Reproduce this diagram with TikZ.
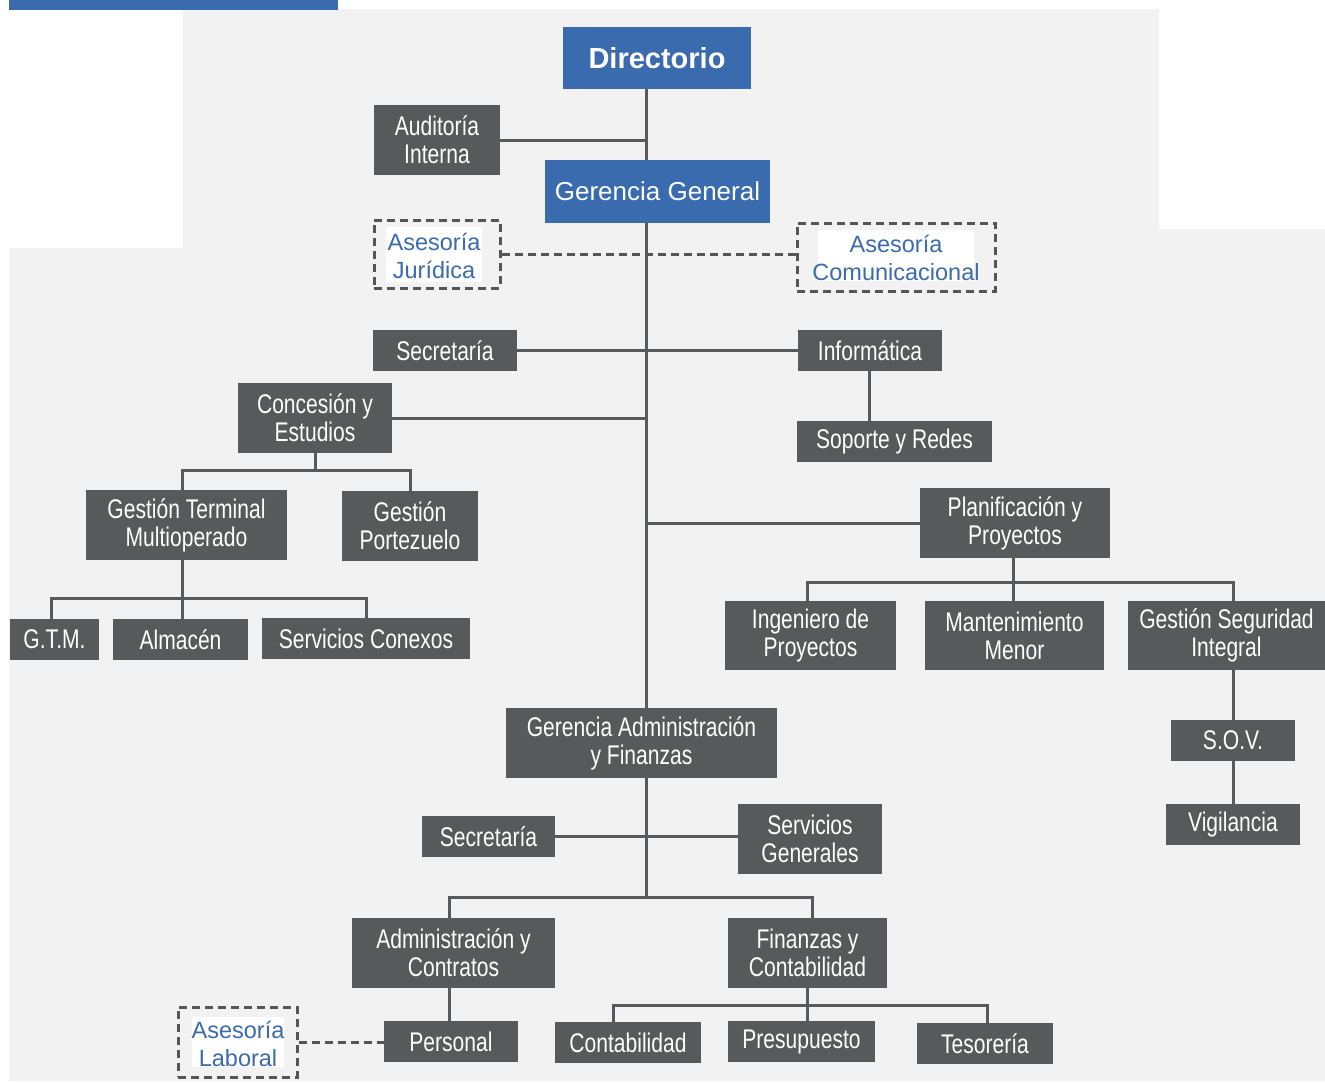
\documentclass[tikz,border=0pt]{standalone}
\usepackage{fontspec}
\setmainfont{Liberation Sans}
\newfontfamily\condfont[FakeStretch=0.78]{Liberation Sans}
\usetikzlibrary{calc}
\definecolor{boxgray}{HTML}{58595B}
\definecolor{corpblue}{HTML}{3A6BAF}
\definecolor{bggray}{HTML}{F2F2F2}
\definecolor{linegray}{HTML}{58595B}
\definecolor{dashgray}{HTML}{555555}
\pgfdeclarelayer{back}
\pgfdeclarelayer{lines}
\pgfsetlayers{back,lines,main}
\begin{document}
\begin{tikzpicture}[x=1pt,y=-1pt,
 unit/.style={fill=boxgray, text=white, inner sep=0pt, align=center, font=\condfont\fontsize{27}{28}\selectfont},
 bluebox/.style={fill=corpblue, text=white, inner sep=0pt, align=center},
 advisor/.style={draw=dashgray, line width=3pt, dash pattern=on 8pt off 5pt, inner sep=0pt},
 advbg/.style={fill=white, inner sep=0pt},
 advtext/.style={text=corpblue, inner sep=0pt, align=center, font=\fontsize{23.5}{28}\selectfont},
 link/.style={draw=linegray, line width=3pt},
 dlink/.style={draw=dashgray, line width=3pt, dash pattern=on 8pt off 5pt},
]
\useasboundingbox (0,0) rectangle (1325,1082);
\begin{pgfonlayer}{back}
\fill[bggray] (183,9) -- (1159,9) -- (1159,229) -- (1325,229) -- (1325,1081) -- (9,1081) -- (9,248) -- (183,248) -- cycle;
\fill[corpblue] (9,0) rectangle (338,10);
\end{pgfonlayer}

% nodes
\node[bluebox, minimum width=188, minimum height=62, font=\bfseries\fontsize{29}{30}\selectfont] (dir) at (657,58) {Directorio};
\node[unit, minimum width=126, minimum height=70] (aud) at (437,140) {Auditoría\\Interna};
\node[bluebox, minimum width=225, minimum height=63, font=\fontsize{26}{28}\selectfont] (gg) at (657.5,191.5) {Gerencia General};

\node[advisor, minimum width=126, minimum height=68] (aj) at (437,254) {};
\node[advbg, minimum width=96, minimum height=55] (ajbg) at (434,254.5) {};
\node[advtext] (ajt) at (434,256) {Asesoría\\Jurídica};

\node[advisor, minimum width=198, minimum height=68] (ac) at (896,257) {};
\node[advbg, minimum width=156, minimum height=51] (acbg) at (896,255.5) {};
\node[advtext] (act) at (896,258) {Asesoría\\Comunicacional};

\node[unit, minimum width=144, minimum height=41] (sec1) at (445,350.5) {Secretaría};
\node[unit, minimum width=144, minimum height=41] (inf) at (870,350.5) {Informática};
\node[unit, minimum width=195, minimum height=41] (sop) at (894.5,441.5) {Soporte y Redes};
\node[unit, minimum width=154, minimum height=70] (con) at (315,418) {Concesión y\\Estudios};
\node[unit, minimum width=201, minimum height=70] (gterm) at (186.5,525) {Gestión Terminal\\Multioperado};
\node[unit, minimum width=136, minimum height=70] (gport) at (410,526) {Gestión\\Portezuelo};
\node[unit, minimum width=89, minimum height=41] (gtm) at (54.5,639.5) {G.T.M.};
\node[unit, minimum width=135, minimum height=41] (alm) at (180.5,639.5) {Almacén};
\node[unit, minimum width=208, minimum height=41] (sercon) at (366,638.5) {Servicios Conexos};

\node[unit, minimum width=190, minimum height=70] (plan) at (1015,523) {Planificación y\\Proyectos};
\node[unit, minimum width=171, minimum height=69] (ing) at (810.5,635.5) {Ingeniero de\\Proyectos};
\node[unit, minimum width=179, minimum height=69] (mant) at (1014.5,635.5) {Mantenimiento\\Menor};
\node[unit, minimum width=197, minimum height=69] (gsi) at (1226.5,635.5) {Gestión Seguridad\\Integral};
\node[unit, minimum width=124, minimum height=41] (sov) at (1233,740.5) {S.O.V.};
\node[unit, minimum width=134, minimum height=41] (vig) at (1233,824.5) {Vigilancia};

\node[unit, minimum width=271, minimum height=70] (gaf) at (641.5,743) {Gerencia Administración\\y Finanzas};
\node[unit, minimum width=133, minimum height=41] (sec2) at (488.5,836.5) {Secretaría};
\node[unit, minimum width=144, minimum height=70] (sg) at (810,839) {Servicios\\Generales};
\node[unit, minimum width=203, minimum height=70] (adm) at (453.5,953) {Administración y\\Contratos};
\node[unit, minimum width=159, minimum height=70] (fin) at (807.5,953) {Finanzas y\\Contabilidad};
\node[unit, minimum width=134, minimum height=41] (per) at (451,1041.5) {Personal};
\node[advisor, minimum width=119, minimum height=70] (al) at (237.5,1042) {};
\node[advbg, minimum width=92, minimum height=50] (albg) at (238,1042) {};
\node[advtext] (alt) at (238,1043.5) {Asesoría\\Laboral};
\node[unit, minimum width=146, minimum height=41] (cont) at (628,1042.5) {Contabilidad};
\node[unit, minimum width=147, minimum height=41] (pres) at (801.5,1041.5) {Presupuesto};
\node[unit, minimum width=136, minimum height=41] (tes) at (985,1043.5) {Tesorería};

% junction coordinates
\coordinate (trunk) at (646,0);
\coordinate (b1) at ($(con.south)+(0,17)$);
\coordinate (b2) at ($([xshift=-4]gterm.south)+(0,38)$);
\coordinate (b3) at ($([xshift=-2]plan.south)+(0,24)$);
\coordinate (b5) at (646,897);
\coordinate (b6) at ($(fin.south)+(0,17)$);

\begin{pgfonlayer}{lines}
\draw[link] (dir.south -| trunk) -- (b5);
\draw[link] (aud.east) -- (aud.east -| trunk);
\draw[link] (sec1.east) -- (inf.west);
\draw[link] ([xshift=-1]inf.south) -- ([xshift=-1]inf.south |- sop.north);
\draw[link] (con.east) -- (con.east -| trunk);
\draw[link] (plan.west) -- (plan.west -| trunk);
\draw[link] (con.south) -- (b1);
\draw[link] ([xshift=-4]gterm.north) |- (b1) -| (gport.north);
\draw[link] ([xshift=-4]gterm.south) -- (b2);
\draw[link] ([xshift=-3]gtm.north) |- (b2) -| (sercon.north);
\draw[link] (b2) -- (b2 |- alm.north);
\draw[link] ([xshift=-2]plan.south) -- (b3);
\draw[link] ([xshift=-3]ing.north) |- (b3) -| (sov.north |- gsi.north);
\draw[link] (b3) -- (b3 |- mant.north);
\draw[link] (sov.north |- gsi.south) -- (sov.north);
\draw[link] (sov.south) -- (vig.north);
\draw[link] (sec2.east) -- (sec2.east -| sg.west);
\draw[link] ([xshift=-4]adm.north) |- (b5) -| ([xshift=5]fin.north);
\draw[link] ([xshift=-2]per.north |- adm.south) -- ([xshift=-2]per.north);
\draw[link] (fin.south) -- (b6);
\draw[link] ([xshift=-15]cont.north) |- (b6) -| ([xshift=2]tes.north);
\draw[link] (b6) -- (b6 |- pres.north);
\draw[dlink] (aj.east) -- (aj.east -| ac.west);
\draw[dlink] (al.east) -- (al.east -| per.west);
\end{pgfonlayer}
\end{tikzpicture}
\end{document}
